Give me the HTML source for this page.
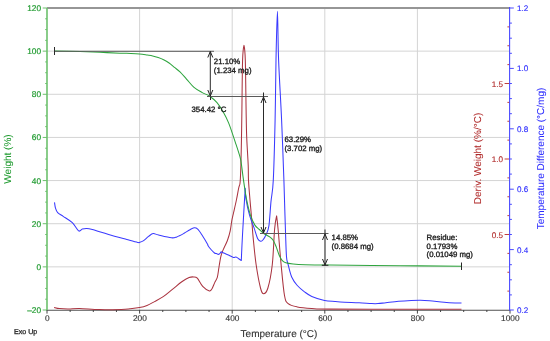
<!DOCTYPE html>
<html><head><meta charset="utf-8"><style>
html,body{margin:0;padding:0;background:#fff;overflow:hidden;width:550px;height:341px;}
svg{display:block;will-change:transform;filter:blur(0.3px);}
text{font-family:"Liberation Sans",sans-serif;text-rendering:geometricPrecision;stroke-width:0.35px;}
</style></head><body>
<svg width="550" height="341" viewBox="0 0 550 341">
<line x1="47" y1="51.14" x2="510" y2="51.14" stroke="#d4d4d4" stroke-width="1"/>
<line x1="47" y1="94.29" x2="510" y2="94.29" stroke="#d4d4d4" stroke-width="1"/>
<line x1="47" y1="137.43" x2="510" y2="137.43" stroke="#d4d4d4" stroke-width="1"/>
<line x1="47" y1="180.57" x2="510" y2="180.57" stroke="#d4d4d4" stroke-width="1"/>
<line x1="47" y1="223.71" x2="510" y2="223.71" stroke="#d4d4d4" stroke-width="1"/>
<line x1="47" y1="266.86" x2="510" y2="266.86" stroke="#d4d4d4" stroke-width="1"/>
<line x1="139.60" y1="8" x2="139.60" y2="310" stroke="#d4d4d4" stroke-width="1"/>
<line x1="232.20" y1="8" x2="232.20" y2="310" stroke="#d4d4d4" stroke-width="1"/>
<line x1="324.80" y1="8" x2="324.80" y2="310" stroke="#d4d4d4" stroke-width="1"/>
<line x1="417.40" y1="8" x2="417.40" y2="310" stroke="#d4d4d4" stroke-width="1"/>
<line x1="47" y1="8" x2="510" y2="8" stroke="#969696" stroke-width="2"/>
<line x1="46" y1="310.2" x2="510" y2="310.2" stroke="#505050" stroke-width="1.1"/>
<line x1="47.00" y1="310" x2="47.00" y2="313.59999999999997" stroke="#444" stroke-width="1"/>
<line x1="70.15" y1="310" x2="70.15" y2="312.0" stroke="#444" stroke-width="1"/>
<line x1="93.30" y1="310" x2="93.30" y2="312.0" stroke="#444" stroke-width="1"/>
<line x1="116.45" y1="310" x2="116.45" y2="312.0" stroke="#444" stroke-width="1"/>
<line x1="139.60" y1="310" x2="139.60" y2="313.59999999999997" stroke="#444" stroke-width="1"/>
<line x1="162.75" y1="310" x2="162.75" y2="312.0" stroke="#444" stroke-width="1"/>
<line x1="185.90" y1="310" x2="185.90" y2="312.0" stroke="#444" stroke-width="1"/>
<line x1="209.05" y1="310" x2="209.05" y2="312.0" stroke="#444" stroke-width="1"/>
<line x1="232.20" y1="310" x2="232.20" y2="313.59999999999997" stroke="#444" stroke-width="1"/>
<line x1="255.35" y1="310" x2="255.35" y2="312.0" stroke="#444" stroke-width="1"/>
<line x1="278.50" y1="310" x2="278.50" y2="312.0" stroke="#444" stroke-width="1"/>
<line x1="301.65" y1="310" x2="301.65" y2="312.0" stroke="#444" stroke-width="1"/>
<line x1="324.80" y1="310" x2="324.80" y2="313.59999999999997" stroke="#444" stroke-width="1"/>
<line x1="347.95" y1="310" x2="347.95" y2="312.0" stroke="#444" stroke-width="1"/>
<line x1="371.10" y1="310" x2="371.10" y2="312.0" stroke="#444" stroke-width="1"/>
<line x1="394.25" y1="310" x2="394.25" y2="312.0" stroke="#444" stroke-width="1"/>
<line x1="417.40" y1="310" x2="417.40" y2="313.59999999999997" stroke="#444" stroke-width="1"/>
<line x1="440.55" y1="310" x2="440.55" y2="312.0" stroke="#444" stroke-width="1"/>
<line x1="463.70" y1="310" x2="463.70" y2="312.0" stroke="#444" stroke-width="1"/>
<line x1="486.85" y1="310" x2="486.85" y2="312.0" stroke="#444" stroke-width="1"/>
<line x1="510.00" y1="310" x2="510.00" y2="313.59999999999997" stroke="#444" stroke-width="1"/>
<line x1="47" y1="8" x2="47" y2="310" stroke="#6cc06c" stroke-width="1.6"/>
<line x1="42.7" y1="310.00" x2="47" y2="310.00" stroke="#6cc06c" stroke-width="1"/>
<line x1="45.2" y1="299.21" x2="47" y2="299.21" stroke="#6cc06c" stroke-width="1"/>
<line x1="45.2" y1="288.43" x2="47" y2="288.43" stroke="#6cc06c" stroke-width="1"/>
<line x1="45.2" y1="277.64" x2="47" y2="277.64" stroke="#6cc06c" stroke-width="1"/>
<line x1="42.7" y1="266.86" x2="47" y2="266.86" stroke="#6cc06c" stroke-width="1"/>
<line x1="45.2" y1="256.07" x2="47" y2="256.07" stroke="#6cc06c" stroke-width="1"/>
<line x1="45.2" y1="245.29" x2="47" y2="245.29" stroke="#6cc06c" stroke-width="1"/>
<line x1="45.2" y1="234.50" x2="47" y2="234.50" stroke="#6cc06c" stroke-width="1"/>
<line x1="42.7" y1="223.71" x2="47" y2="223.71" stroke="#6cc06c" stroke-width="1"/>
<line x1="45.2" y1="212.93" x2="47" y2="212.93" stroke="#6cc06c" stroke-width="1"/>
<line x1="45.2" y1="202.14" x2="47" y2="202.14" stroke="#6cc06c" stroke-width="1"/>
<line x1="45.2" y1="191.36" x2="47" y2="191.36" stroke="#6cc06c" stroke-width="1"/>
<line x1="42.7" y1="180.57" x2="47" y2="180.57" stroke="#6cc06c" stroke-width="1"/>
<line x1="45.2" y1="169.79" x2="47" y2="169.79" stroke="#6cc06c" stroke-width="1"/>
<line x1="45.2" y1="159.00" x2="47" y2="159.00" stroke="#6cc06c" stroke-width="1"/>
<line x1="45.2" y1="148.21" x2="47" y2="148.21" stroke="#6cc06c" stroke-width="1"/>
<line x1="42.7" y1="137.43" x2="47" y2="137.43" stroke="#6cc06c" stroke-width="1"/>
<line x1="45.2" y1="126.64" x2="47" y2="126.64" stroke="#6cc06c" stroke-width="1"/>
<line x1="45.2" y1="115.86" x2="47" y2="115.86" stroke="#6cc06c" stroke-width="1"/>
<line x1="45.2" y1="105.07" x2="47" y2="105.07" stroke="#6cc06c" stroke-width="1"/>
<line x1="42.7" y1="94.29" x2="47" y2="94.29" stroke="#6cc06c" stroke-width="1"/>
<line x1="45.2" y1="83.50" x2="47" y2="83.50" stroke="#6cc06c" stroke-width="1"/>
<line x1="45.2" y1="72.71" x2="47" y2="72.71" stroke="#6cc06c" stroke-width="1"/>
<line x1="45.2" y1="61.93" x2="47" y2="61.93" stroke="#6cc06c" stroke-width="1"/>
<line x1="42.7" y1="51.14" x2="47" y2="51.14" stroke="#6cc06c" stroke-width="1"/>
<line x1="45.2" y1="40.36" x2="47" y2="40.36" stroke="#6cc06c" stroke-width="1"/>
<line x1="45.2" y1="29.57" x2="47" y2="29.57" stroke="#6cc06c" stroke-width="1"/>
<line x1="45.2" y1="18.79" x2="47" y2="18.79" stroke="#6cc06c" stroke-width="1"/>
<line x1="42.7" y1="8.00" x2="47" y2="8.00" stroke="#6cc06c" stroke-width="1"/>
<line x1="507.40000000000003" y1="291.12" x2="509.6" y2="291.12" stroke="#c04040" stroke-width="1"/>
<line x1="507.40000000000003" y1="272.25" x2="509.6" y2="272.25" stroke="#c04040" stroke-width="1"/>
<line x1="507.40000000000003" y1="253.38" x2="509.6" y2="253.38" stroke="#c04040" stroke-width="1"/>
<line x1="504.6" y1="234.50" x2="509.6" y2="234.50" stroke="#c04040" stroke-width="1"/>
<line x1="507.40000000000003" y1="215.62" x2="509.6" y2="215.62" stroke="#c04040" stroke-width="1"/>
<line x1="507.40000000000003" y1="196.75" x2="509.6" y2="196.75" stroke="#c04040" stroke-width="1"/>
<line x1="507.40000000000003" y1="177.88" x2="509.6" y2="177.88" stroke="#c04040" stroke-width="1"/>
<line x1="504.6" y1="159.00" x2="509.6" y2="159.00" stroke="#c04040" stroke-width="1"/>
<line x1="507.40000000000003" y1="140.12" x2="509.6" y2="140.12" stroke="#c04040" stroke-width="1"/>
<line x1="507.40000000000003" y1="121.25" x2="509.6" y2="121.25" stroke="#c04040" stroke-width="1"/>
<line x1="507.40000000000003" y1="102.38" x2="509.6" y2="102.38" stroke="#c04040" stroke-width="1"/>
<line x1="504.6" y1="83.50" x2="509.6" y2="83.50" stroke="#c04040" stroke-width="1"/>
<line x1="507.40000000000003" y1="64.62" x2="509.6" y2="64.62" stroke="#c04040" stroke-width="1"/>
<line x1="507.40000000000003" y1="45.75" x2="509.6" y2="45.75" stroke="#c04040" stroke-width="1"/>
<line x1="507.40000000000003" y1="26.88" x2="509.6" y2="26.88" stroke="#c04040" stroke-width="1"/>
<line x1="509.6" y1="7" x2="509.6" y2="310.5" stroke="#4a4aff" stroke-width="1.1"/>
<line x1="509.6" y1="310.00" x2="513.8000000000001" y2="310.00" stroke="#4a4aff" stroke-width="1"/>
<line x1="509.6" y1="294.90" x2="511.90000000000003" y2="294.90" stroke="#4a4aff" stroke-width="1"/>
<line x1="509.6" y1="279.80" x2="511.90000000000003" y2="279.80" stroke="#4a4aff" stroke-width="1"/>
<line x1="509.6" y1="264.70" x2="511.90000000000003" y2="264.70" stroke="#4a4aff" stroke-width="1"/>
<line x1="509.6" y1="249.60" x2="513.8000000000001" y2="249.60" stroke="#4a4aff" stroke-width="1"/>
<line x1="509.6" y1="234.50" x2="511.90000000000003" y2="234.50" stroke="#4a4aff" stroke-width="1"/>
<line x1="509.6" y1="219.40" x2="511.90000000000003" y2="219.40" stroke="#4a4aff" stroke-width="1"/>
<line x1="509.6" y1="204.30" x2="511.90000000000003" y2="204.30" stroke="#4a4aff" stroke-width="1"/>
<line x1="509.6" y1="189.20" x2="513.8000000000001" y2="189.20" stroke="#4a4aff" stroke-width="1"/>
<line x1="509.6" y1="174.10" x2="511.90000000000003" y2="174.10" stroke="#4a4aff" stroke-width="1"/>
<line x1="509.6" y1="159.00" x2="511.90000000000003" y2="159.00" stroke="#4a4aff" stroke-width="1"/>
<line x1="509.6" y1="143.90" x2="511.90000000000003" y2="143.90" stroke="#4a4aff" stroke-width="1"/>
<line x1="509.6" y1="128.80" x2="513.8000000000001" y2="128.80" stroke="#4a4aff" stroke-width="1"/>
<line x1="509.6" y1="113.70" x2="511.90000000000003" y2="113.70" stroke="#4a4aff" stroke-width="1"/>
<line x1="509.6" y1="98.60" x2="511.90000000000003" y2="98.60" stroke="#4a4aff" stroke-width="1"/>
<line x1="509.6" y1="83.50" x2="511.90000000000003" y2="83.50" stroke="#4a4aff" stroke-width="1"/>
<line x1="509.6" y1="68.40" x2="513.8000000000001" y2="68.40" stroke="#4a4aff" stroke-width="1"/>
<line x1="509.6" y1="53.30" x2="511.90000000000003" y2="53.30" stroke="#4a4aff" stroke-width="1"/>
<line x1="509.6" y1="38.20" x2="511.90000000000003" y2="38.20" stroke="#4a4aff" stroke-width="1"/>
<line x1="509.6" y1="23.10" x2="511.90000000000003" y2="23.10" stroke="#4a4aff" stroke-width="1"/>
<line x1="509.6" y1="8.00" x2="513.8000000000001" y2="8.00" stroke="#4a4aff" stroke-width="1"/>
<path d="M54.10,307.40 C55.00,307.60 57.08,308.33 59.50,308.60 C61.92,308.87 65.27,309.02 68.60,309.00 C71.93,308.98 74.35,308.40 79.50,308.50 C84.65,308.60 92.52,309.45 99.50,309.60 C106.48,309.75 116.32,309.53 121.40,309.40 C126.48,309.27 126.98,309.10 130.00,308.80 C133.02,308.50 136.67,308.15 139.50,307.60 C142.33,307.05 144.50,306.50 147.00,305.50 C149.50,304.50 151.73,303.12 154.50,301.60 C157.27,300.08 160.57,298.48 163.60,296.40 C166.63,294.32 169.67,291.53 172.70,289.10 C175.73,286.67 179.07,283.72 181.80,281.80 C184.53,279.88 187.13,278.42 189.10,277.60 C191.07,276.78 192.23,276.80 193.60,276.90 C194.97,277.00 195.78,276.62 197.30,278.20 C198.82,279.78 200.68,284.27 202.70,286.40 C204.72,288.53 207.85,290.62 209.40,291.00 C210.95,291.38 211.12,290.10 212.00,288.70 C212.88,287.30 213.82,284.50 214.70,282.60 C215.58,280.70 216.63,279.57 217.30,277.30 C217.97,275.03 218.35,271.13 218.70,269.00 C219.05,266.87 219.07,266.48 219.40,264.50 C219.73,262.52 220.25,259.12 220.70,257.10 C221.15,255.08 221.53,253.97 222.10,252.40 C222.67,250.83 223.20,249.73 224.10,247.70 C225.00,245.67 226.48,243.02 227.50,240.20 C228.52,237.38 229.47,234.17 230.20,230.80 C230.93,227.43 231.33,223.05 231.90,220.00 C232.47,216.95 232.85,215.83 233.60,212.50 C234.35,209.17 235.55,204.08 236.40,200.00 C237.25,195.92 238.12,190.67 238.70,188.00 C239.28,185.33 239.62,185.67 239.90,184.00 C240.18,182.33 240.23,181.17 240.40,178.00 C240.57,174.83 240.72,171.83 240.90,165.00 C241.08,158.17 241.33,146.17 241.50,137.00 C241.67,127.83 241.72,122.83 241.90,110.00 C242.08,97.17 242.25,70.77 242.60,60.00 C242.95,49.23 244.00,45.40 244.00,45.40 C244.00,45.40 244.95,49.23 245.30,60.00 C245.65,70.77 245.87,97.17 246.10,110.00 C246.33,122.83 246.35,127.83 246.70,137.00 C247.05,146.17 247.90,157.77 248.20,165.00 C248.50,172.23 248.20,174.57 248.50,180.40 C248.80,186.23 249.48,193.73 250.00,200.00 C250.52,206.27 251.07,211.65 251.60,218.00 C252.13,224.35 252.45,230.35 253.20,238.10 C253.95,245.85 254.88,256.18 256.10,264.50 C257.32,272.82 259.27,283.12 260.50,288.00 C261.73,292.88 262.27,293.80 263.50,293.80 C264.73,293.80 266.43,292.88 267.90,288.00 C269.37,283.12 271.18,274.28 272.30,264.50 C273.42,254.72 273.88,237.40 274.60,229.30 C275.32,221.20 276.60,215.90 276.60,215.90 C276.60,215.90 277.35,221.20 278.10,229.30 C278.85,237.40 280.03,253.47 281.10,264.50 C282.17,275.53 283.32,288.98 284.50,295.50 C285.68,302.02 286.07,301.70 288.20,303.60 C290.33,305.50 293.37,306.08 297.30,306.90 C301.23,307.72 306.35,308.13 311.80,308.50 C317.25,308.87 315.30,308.97 330.00,309.10 C344.70,309.23 378.08,309.27 400.00,309.30 C421.92,309.33 451.25,309.30 461.50,309.30" fill="none" stroke="#aa3440" stroke-width="1.05" stroke-linejoin="round"/>
<path d="M54.50,202.40 C54.67,203.37 54.97,206.48 55.50,208.20 C56.03,209.92 56.42,211.33 57.70,212.70 C58.98,214.07 60.77,214.73 63.20,216.40 C65.63,218.07 69.73,220.28 72.30,222.70 C74.87,225.12 76.93,229.83 78.60,230.90 C80.27,231.97 80.93,229.50 82.30,229.10 C83.67,228.70 85.13,228.42 86.80,228.50 C88.47,228.58 88.67,228.60 92.30,229.60 C95.93,230.60 102.85,232.85 108.60,234.50 C114.35,236.15 121.95,238.18 126.80,239.50 C131.65,240.82 135.58,241.92 137.70,242.40 C139.82,242.88 138.58,242.65 139.50,242.40 C140.42,242.15 141.68,241.90 143.20,240.90 C144.72,239.90 146.93,237.62 148.60,236.40 C150.27,235.18 151.53,233.82 153.20,233.60 C154.87,233.38 155.57,234.40 158.60,235.10 C161.63,235.80 168.37,237.50 171.40,237.80 C174.43,238.10 174.68,237.65 176.80,236.90 C178.92,236.15 181.98,234.45 184.10,233.30 C186.22,232.15 187.83,230.92 189.50,230.00 C191.17,229.08 192.73,227.95 194.10,227.80 C195.47,227.65 196.33,227.82 197.70,229.10 C199.07,230.38 200.63,232.93 202.30,235.50 C203.97,238.07 206.77,242.83 207.70,244.50 C208.63,246.17 207.35,244.67 207.90,245.50 C208.45,246.33 209.90,248.25 211.00,249.50 C212.10,250.75 213.58,252.32 214.50,253.00 C215.42,253.68 215.77,253.38 216.50,253.60 C217.23,253.82 218.13,254.62 218.90,254.30 C219.67,253.98 221.10,251.70 221.10,251.70 C221.10,251.70 222.38,252.42 223.70,253.00 C225.02,253.58 227.38,254.47 229.00,255.20 C230.62,255.93 232.23,257.10 233.40,257.40 C234.57,257.70 235.12,256.78 236.00,257.00 C236.88,257.22 237.82,258.12 238.70,258.70 C239.58,259.28 241.30,260.50 241.30,260.50 C241.30,260.50 241.85,247.05 242.50,235.00 C243.15,222.95 245.20,188.20 245.20,188.20 C245.20,188.20 245.37,195.07 246.10,199.60 C246.83,204.13 248.28,210.72 249.60,215.40 C250.92,220.08 252.62,223.75 254.00,227.70 C255.38,231.65 256.75,236.83 257.90,239.10 C259.05,241.37 260.03,241.18 260.90,241.30 C261.77,241.42 262.25,240.90 263.10,239.80 C263.95,238.70 265.03,237.02 266.00,234.70 C266.97,232.38 268.07,231.45 268.90,225.90 C269.73,220.35 270.27,209.05 271.00,201.40 C271.73,193.75 272.62,193.57 273.30,180.00 C273.98,166.43 274.65,140.00 275.10,120.00 C275.55,100.00 275.62,78.13 276.00,60.00 C276.38,41.87 276.97,11.20 277.40,11.20 C277.83,11.20 277.90,41.87 278.60,60.00 C279.30,78.13 280.72,100.00 281.60,120.00 C282.48,140.00 283.37,164.98 283.90,180.00 C284.43,195.02 284.52,200.93 284.80,210.10 C285.08,219.27 285.32,227.23 285.60,235.00 C285.88,242.77 286.10,251.87 286.50,256.70 C286.90,261.53 287.12,260.57 288.00,264.00 C288.88,267.43 290.25,273.72 291.80,277.30 C293.35,280.88 295.18,283.08 297.30,285.50 C299.42,287.92 302.08,289.98 304.50,291.80 C306.92,293.62 308.47,294.97 311.80,296.40 C315.13,297.83 320.63,299.55 324.50,300.40 C328.37,301.25 331.67,301.20 335.00,301.50 C338.33,301.80 340.48,302.00 344.50,302.20 C348.52,302.40 354.55,302.47 359.10,302.70 C363.65,302.93 368.65,303.45 371.80,303.60 C374.95,303.75 375.65,303.75 378.00,303.60 C380.35,303.45 382.47,303.08 385.90,302.70 C389.33,302.32 394.35,301.67 398.60,301.30 C402.85,300.93 407.75,300.67 411.40,300.50 C415.05,300.33 417.48,300.25 420.50,300.30 C423.52,300.35 425.57,300.47 429.50,300.80 C433.43,301.13 439.85,301.93 444.10,302.30 C448.35,302.67 452.10,302.87 455.00,303.00 C457.90,303.13 460.42,303.08 461.50,303.10" fill="none" stroke="#3a3aff" stroke-width="1.05" stroke-linejoin="round"/>
<path d="M54.50,51.00 C58.75,51.10 72.42,51.38 80.00,51.60 C87.58,51.82 93.33,52.03 100.00,52.30 C106.67,52.57 114.85,53.02 120.00,53.20 C125.15,53.38 127.63,53.28 130.90,53.40 C134.17,53.52 136.87,53.63 139.60,53.90 C142.33,54.17 145.12,54.67 147.30,55.00 C149.48,55.33 150.88,55.48 152.70,55.90 C154.52,56.32 156.38,56.87 158.20,57.50 C160.02,58.13 161.78,58.78 163.60,59.70 C165.42,60.62 167.28,61.72 169.10,63.00 C170.92,64.28 172.68,65.92 174.50,67.40 C176.32,68.88 177.97,69.92 180.00,71.90 C182.03,73.88 184.37,76.72 186.70,79.30 C189.03,81.88 191.40,85.18 194.00,87.40 C196.60,89.62 199.68,91.13 202.30,92.60 C204.92,94.07 207.25,94.53 209.70,96.20 C212.15,97.87 214.80,100.07 217.00,102.60 C219.20,105.13 220.95,107.98 222.90,111.40 C224.85,114.82 226.60,117.87 228.70,123.10 C230.80,128.33 233.62,137.17 235.50,142.80 C237.38,148.43 239.00,153.20 240.00,156.90 C241.00,160.60 240.93,161.25 241.50,165.00 C242.07,168.75 242.60,173.90 243.40,179.40 C244.20,184.90 245.12,192.00 246.30,198.00 C247.48,204.00 249.07,210.88 250.50,215.40 C251.93,219.92 253.42,222.75 254.90,225.10 C256.38,227.45 257.92,228.10 259.40,229.50 C260.88,230.90 262.08,232.27 263.80,233.50 C265.52,234.73 268.12,235.73 269.70,236.90 C271.28,238.07 272.20,238.80 273.30,240.50 C274.40,242.20 275.32,244.65 276.30,247.10 C277.28,249.55 278.23,253.00 279.20,255.20 C280.17,257.40 281.00,259.03 282.10,260.30 C283.20,261.57 283.97,262.18 285.80,262.80 C287.63,263.42 289.90,263.68 293.10,264.00 C296.30,264.32 298.85,264.52 305.00,264.70 C311.15,264.88 314.17,264.93 330.00,265.10 C345.83,265.27 378.08,265.52 400.00,265.70 C421.92,265.88 451.25,266.12 461.50,266.20" fill="none" stroke="#2ea43e" stroke-width="1.05" stroke-linejoin="round"/>
<line x1="54.5" y1="51.3" x2="214" y2="51.3" stroke="#5a5a5a" stroke-width="1.0"/>
<line x1="54.5" y1="47" x2="54.5" y2="55" stroke="#2a2a2a" stroke-width="1"/>
<line x1="210.3" y1="51.3" x2="210.3" y2="96.5" stroke="#2a2a2a" stroke-width="1"/>
<path d="M207.8,57.5 L210.3,51.5 L212.8,57.5" fill="none" stroke="#222" stroke-width="1"/>
<path d="M207.8,90 L210.3,96 L212.8,90" fill="none" stroke="#222" stroke-width="1"/>
<line x1="207" y1="96.5" x2="268" y2="96.5" stroke="#5a5a5a" stroke-width="1"/>
<line x1="210.5" y1="96.5" x2="210.5" y2="100" stroke="#2a2a2a" stroke-width="1"/>
<line x1="263.5" y1="92.5" x2="263.5" y2="233.5" stroke="#2a2a2a" stroke-width="1"/>
<path d="M261.0,103 L263.5,97 L266.0,103" fill="none" stroke="#222" stroke-width="1"/>
<path d="M261.0,227 L263.5,233 L266.0,227" fill="none" stroke="#222" stroke-width="1"/>
<line x1="260" y1="233.5" x2="328.5" y2="233.5" stroke="#5a5a5a" stroke-width="1"/>
<line x1="325" y1="229.5" x2="325" y2="265.5" stroke="#2a2a2a" stroke-width="1"/>
<line x1="321.8" y1="265.3" x2="328.4" y2="265.3" stroke="#333" stroke-width="1.2"/>
<path d="M322.5,240 L325,234 L327.5,240" fill="none" stroke="#222" stroke-width="1"/>
<path d="M322.5,259 L325,265 L327.5,259" fill="none" stroke="#222" stroke-width="1"/>
<line x1="461.5" y1="262.5" x2="461.5" y2="270" stroke="#2a2a2a" stroke-width="1"/>
<text x="41" y="11.0" fill="#1f9a2f" stroke="#1f9a2f" font-size="8.3" text-anchor="end" style="stroke-width:0.2px">120</text>
<text x="41" y="54.14285714285717" fill="#1f9a2f" stroke="#1f9a2f" font-size="8.3" text-anchor="end" style="stroke-width:0.2px">100</text>
<text x="41" y="97.28571428571428" fill="#1f9a2f" stroke="#1f9a2f" font-size="8.3" text-anchor="end" style="stroke-width:0.2px">80</text>
<text x="41" y="140.42857142857142" fill="#1f9a2f" stroke="#1f9a2f" font-size="8.3" text-anchor="end" style="stroke-width:0.2px">60</text>
<text x="41" y="183.57142857142858" fill="#1f9a2f" stroke="#1f9a2f" font-size="8.3" text-anchor="end" style="stroke-width:0.2px">40</text>
<text x="41" y="226.71428571428572" fill="#1f9a2f" stroke="#1f9a2f" font-size="8.3" text-anchor="end" style="stroke-width:0.2px">20</text>
<text x="41" y="269.85714285714283" fill="#1f9a2f" stroke="#1f9a2f" font-size="8.3" text-anchor="end" style="stroke-width:0.2px">0</text>
<text x="41" y="313.0" fill="#1f9a2f" stroke="#1f9a2f" font-size="8.3" text-anchor="end" style="stroke-width:0.2px">&#8211;20</text>
<text x="47.3" y="321.3" fill="#333" stroke="#333" font-size="8.3" text-anchor="middle" style="stroke-width:0.15px">0</text>
<text x="139.90000000000003" y="321.3" fill="#333" stroke="#333" font-size="8.3" text-anchor="middle" style="stroke-width:0.15px">200</text>
<text x="232.50000000000003" y="321.3" fill="#333" stroke="#333" font-size="8.3" text-anchor="middle" style="stroke-width:0.15px">400</text>
<text x="325.1" y="321.3" fill="#333" stroke="#333" font-size="8.3" text-anchor="middle" style="stroke-width:0.15px">600</text>
<text x="417.70000000000005" y="321.3" fill="#333" stroke="#333" font-size="8.3" text-anchor="middle" style="stroke-width:0.15px">800</text>
<text x="510.3" y="321.3" fill="#333" stroke="#333" font-size="8.3" text-anchor="middle" style="stroke-width:0.15px">1000</text>
<text x="517" y="11.0" fill="#2b2bff" stroke="#2b2bff" font-size="8.1" text-anchor="start" style="stroke-width:0.12px">1.2</text>
<text x="517" y="71.39999999999998" fill="#2b2bff" stroke="#2b2bff" font-size="8.1" text-anchor="start" style="stroke-width:0.12px">1.0</text>
<text x="517" y="131.79999999999998" fill="#2b2bff" stroke="#2b2bff" font-size="8.1" text-anchor="start" style="stroke-width:0.12px">0.8</text>
<text x="517" y="192.20000000000002" fill="#2b2bff" stroke="#2b2bff" font-size="8.1" text-anchor="start" style="stroke-width:0.12px">0.6</text>
<text x="517" y="252.6" fill="#2b2bff" stroke="#2b2bff" font-size="8.1" text-anchor="start" style="stroke-width:0.12px">0.4</text>
<text x="517" y="313.0" fill="#2b2bff" stroke="#2b2bff" font-size="8.1" text-anchor="start" style="stroke-width:0.12px">0.2</text>
<text x="503" y="86.5" fill="#b02a2a" stroke="#b02a2a" font-size="8.1" text-anchor="end" style="stroke-width:0.12px">1.5</text>
<text x="503" y="162.0" fill="#b02a2a" stroke="#b02a2a" font-size="8.1" text-anchor="end" style="stroke-width:0.12px">1.0</text>
<text x="503" y="237.5" fill="#b02a2a" stroke="#b02a2a" font-size="8.1" text-anchor="end" style="stroke-width:0.12px">0.5</text>
<text x="279" y="336.5" fill="#333" stroke="#333" font-size="10" text-anchor="middle" style="stroke-width:0.12px">Temperature (&#176;C)</text>
<text x="14" y="333.7" fill="#333" stroke="#333" font-size="7.1" text-anchor="start" >Exo Up</text>
<text x="0" y="0" fill="#1f9a2f" stroke="#1f9a2f" style="stroke-width:0.05px" font-size="10" text-anchor="middle" transform="translate(11.4,159) rotate(-90)">Weight (%)</text>
<text x="0" y="0" fill="#b02a2a" stroke="#b02a2a" style="stroke-width:0.05px" font-size="10" text-anchor="middle" transform="translate(481,158.5) rotate(-90)">Deriv. Weight (%/&#176;C)</text>
<text x="0" y="0" fill="#2b2bff" stroke="#2b2bff" style="stroke-width:0.05px" font-size="10" text-anchor="middle" transform="translate(544.3,158.5) rotate(-90)">Temperature Difference (&#176;C/mg)</text>
<text x="213.8" y="64.1" fill="#222" stroke="#222" font-size="7.8" text-anchor="start" >21.10%</text>
<text x="213.8" y="72.69999999999999" fill="#222" stroke="#222" font-size="7.8" text-anchor="start" >(1.234 mg)</text>
<text x="191.5" y="112.4" fill="#222" stroke="#222" font-size="7.8" text-anchor="start" >354.42 &#176;C</text>
<text x="284.5" y="142.2" fill="#222" stroke="#222" font-size="7.8" text-anchor="start" >63.29%</text>
<text x="284.5" y="150.89999999999998" fill="#222" stroke="#222" font-size="7.8" text-anchor="start" >(3.702 mg)</text>
<text x="331.6" y="240.1" fill="#222" stroke="#222" font-size="7.8" text-anchor="start" >14.85%</text>
<text x="331.6" y="248.7" fill="#222" stroke="#222" font-size="7.8" text-anchor="start" >(0.8684 mg)</text>
<text x="426.6" y="240.1" fill="#222" stroke="#222" font-size="7.8" text-anchor="start" >Residue:</text>
<text x="426.6" y="248.7" fill="#222" stroke="#222" font-size="7.8" text-anchor="start" >0.1793%</text>
<text x="426.6" y="257.3" fill="#222" stroke="#222" font-size="7.8" text-anchor="start" >(0.01049 mg)</text>
</svg>
</body></html>
